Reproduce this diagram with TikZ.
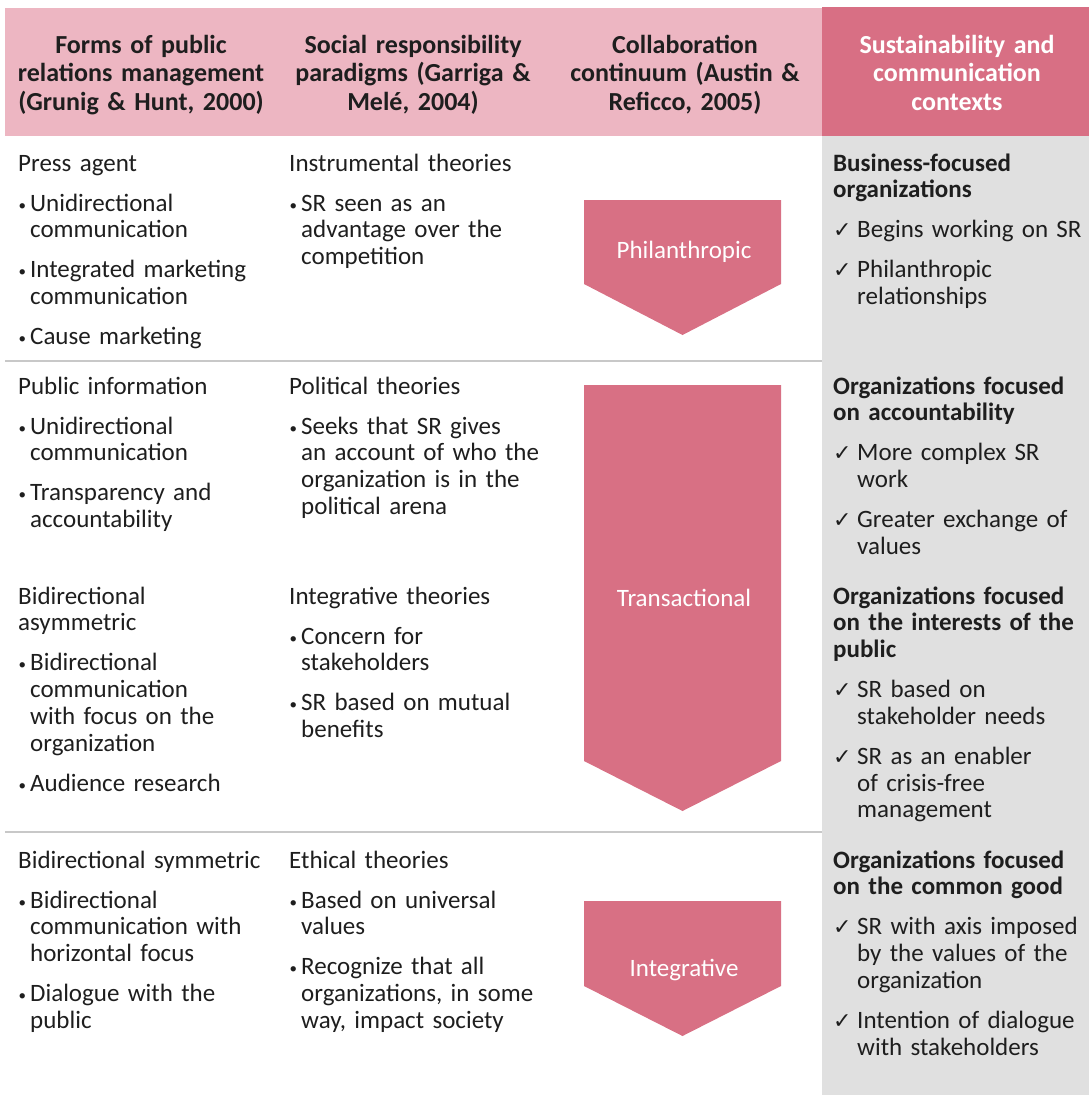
\documentclass[tikz,border=0pt]{standalone}
\usepackage{fontspec}
\setmainfont{Carlito}
\newfontfamily\symfont{DejaVu Sans}
\definecolor{hdrlight}{HTML}{EDB6C2}
\definecolor{hdrdark}{HTML}{D86F84}
\definecolor{arrowpink}{HTML}{D87084}
\definecolor{greycol}{HTML}{E0E0E0}
\definecolor{sepgrey}{HTML}{C8C8C8}
\definecolor{txt}{HTML}{1E1E1E}
\newcommand{\topstrut}{\rule{0pt}{21pt}}
\newcommand{\bulletmark}{\makebox[12pt][l]{\hspace{0.5pt}\raisebox{1pt}{\fontsize{15}{15}\selectfont •}}}
\newcommand{\checkmark}{\makebox[24pt][l]{\symfont\fontsize{22}{22}\selectfont ✓}}
\newcommand{\bitem}[1]{\par\vspace{13.3pt}\hangindent=12pt\hangafter=1\noindent\bulletmark#1\par}
\newcommand{\citem}[1]{\par\vspace{13.3pt}\hangindent=24pt\hangafter=1\noindent\checkmark#1\par}
\tikzset{
  cell/.style={anchor=north west, inner sep=0pt, text width=265pt, align=left, text=txt,
    font=\fontsize{25}{26.7}\selectfont},
  hdr/.style={anchor=north, inner sep=0pt, text width=270pt, align=center, text=txt,
    font=\fontsize{26}{28.5}\selectfont\bfseries},
  arrowlbl/.style={anchor=base, inner sep=0pt, text=white, font=\fontsize{25}{26}\selectfont},
  chev/.style={fill=arrowpink},
  sep/.style={draw=sepgrey, line width=2pt}
}
\begin{document}
\begin{tikzpicture}[x=1pt,y=-1pt]
\useasboundingbox (0,0) rectangle (1089,1095);
% backgrounds
\fill[hdrlight] (5,8) rectangle (822,136);
\fill[hdrdark] (822,7) rectangle (1089,136);
\fill[greycol] (822,136) rectangle (1089,1095);
\draw[sep] (5,360.5) coordinate (s1a) -- (822,360.5) coordinate (s1b);
\draw[sep] (5,832) coordinate (s2a) -- (822,832) coordinate (s2b);
% headers
\node[hdr] (h1) at (141,32) {\topstrut Forms of public\\relations management\\(Grunig \& Hunt, 2000)};
\node[hdr] (h2) at (413,32) {\topstrut Social responsibility\\paradigms (Garriga \&\\Melé, 2004)};
\node[hdr] (h3) at (685,32) {\topstrut Collaboration\\continuum (Austin \&\\Reficco, 2005)};
\node[hdr, text=white] (h4) at (957,32) {\topstrut Sustainability and\\communication\\contexts};
% chevrons
\fill[chev] (584,200) -- (781,200) -- (781,284) -- (682.5,335) -- (584,284) -- cycle;
\fill[chev] (584,385) -- (781,385) -- (781,761) -- (682.5,811) -- (584,761) -- cycle;
\fill[chev] (584,901) -- (781,901) -- (781,986) -- (682.5,1036) -- (584,986) -- cycle;
\node[arrowlbl] (phil) at (684,258) {Philanthropic};
\node[arrowlbl] (trans) at (684,606) {Transactional};
\node[arrowlbl] (integ) at (684,976) {Integrative};
% column 1
\node[cell] (a1) at (18,150) {\topstrut Press agent
  \bitem{Unidirectional\newline communication}
  \bitem{Integrated marketing\newline communication}
  \bitem{Cause marketing}};
\node[cell] (a2) at (18,373) {\topstrut Public information
  \bitem{Unidirectional\newline communication}
  \bitem{Transparency and\newline accountability}};
\node[cell] (a3) at (18,583) {\topstrut Bidirectional\newline asymmetric
  \bitem{Bidirectional\newline communication\newline with focus on the\newline organization}
  \bitem{Audience research}};
\node[cell] (a4) at (18,847) {\topstrut Bidirectional symmetric
  \bitem{Bidirectional\newline communication with\newline horizontal focus}
  \bitem{Dialogue with the\newline public}};
% column 2
\node[cell] (b1) at (289,150) {\topstrut Instrumental theories
  \bitem{SR seen as an\newline advantage over the\newline competition}};
\node[cell] (b2) at (289,373) {\topstrut Political theories
  \bitem{Seeks that SR gives\newline an account of who the\newline organization is in the\newline political arena}};
\node[cell] (b3) at (289,583) {\topstrut Integrative theories
  \bitem{Concern for\newline stakeholders}
  \bitem{SR based on mutual\newline benefits}};
\node[cell] (b4) at (289,847) {\topstrut Ethical theories
  \bitem{Based on universal\newline values}
  \bitem{Recognize that all\newline organizations, in some\newline way, impact society}};
% column 4
\node[cell] (d1) at (833,150) {\topstrut\textbf{Business-focused\newline organizations}
  \citem{Begins working on SR}
  \citem{Philanthropic\newline relationships}};
\node[cell] (d2) at (833,373) {\topstrut\textbf{Organizations focused\newline on accountability}
  \citem{More complex SR\newline work}
  \citem{Greater exchange of\newline values}};
\node[cell] (d3) at (833,583) {\topstrut\textbf{Organizations focused\newline on the interests of the\newline public}
  \citem{SR based on\newline stakeholder needs}
  \citem{SR as an enabler\newline of crisis-free\newline management}};
\node[cell] (d4) at (833,847) {\topstrut\textbf{Organizations focused\newline on the common good}
  \citem{SR with axis imposed\newline by the values of the\newline organization}
  \citem{Intention of dialogue\newline with stakeholders}};
\end{tikzpicture}
\end{document}
